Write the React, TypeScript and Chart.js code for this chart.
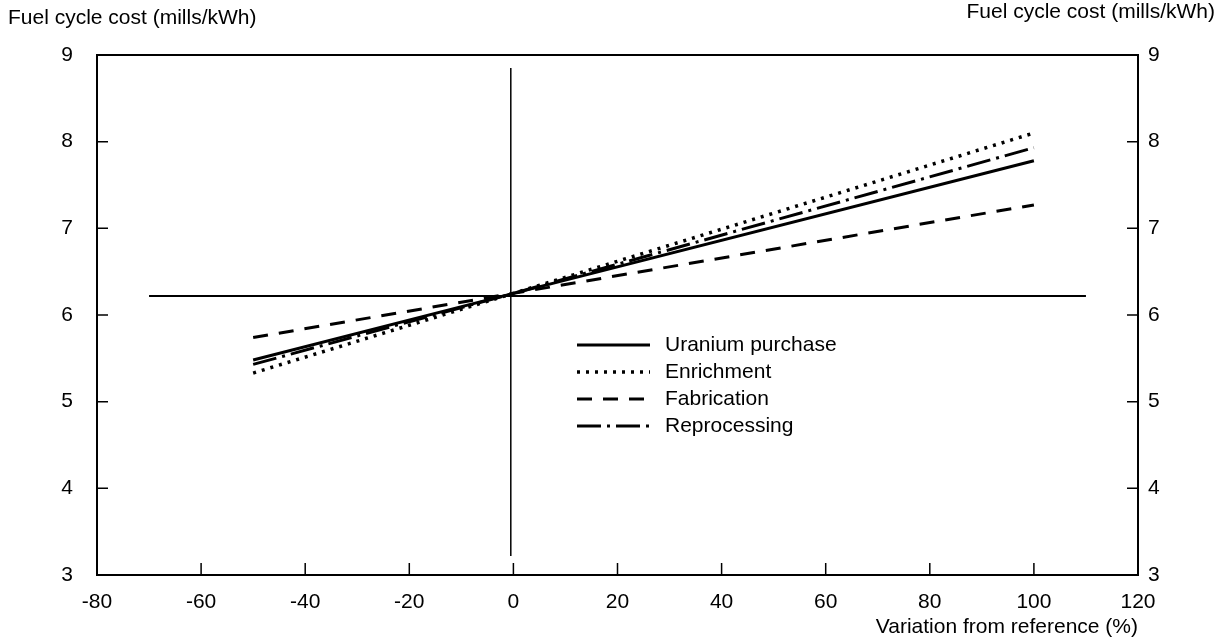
import React, { useEffect, useRef } from "react";
import { Chart, registerables } from "chart.js";

Chart.register(...registerables);

const xPoints = [-50, 0, 100];
const uraniumPurchase = [5.48, 6.25, 7.78];
const enrichment = [5.33, 6.25, 8.1];
const fabrication = [5.74, 6.25, 7.27];
const reprocessing = [5.43, 6.25, 7.93];

const seriesNames = ["Uranium purchase", "Enrichment", "Fabrication", "Reprocessing"];

const refLineX = [-70, 110];
const refLineY = [6.22, 6.22];
const zeroLineX = [-0.5, -0.5];
const zeroLineY = [3.22, 8.85];

const yTitle = "Fuel cycle cost (mills/kWh)";
const xTitle = "Variation from reference (%)";

const FONT = "'Liberation Sans', Arial, Helvetica, sans-serif";

export default function App() {
  const canvasRef = useRef<HTMLCanvasElement | null>(null);

  useEffect(() => {
    if (!canvasRef.current) return;
    const mk = (ys: number[]) => xPoints.map((x, i) => ({ x, y: ys[i] }));

    const framePlugin = {
      id: "frameTicks",
      afterDatasetsDraw(chart: any) {
        const { ctx, chartArea } = chart;
        const { left, right, top, bottom } = chartArea;
        const xs = chart.scales.x;
        const yl = chart.scales.y;
        const yr = chart.scales.y2;
        ctx.save();
        ctx.strokeStyle = "#000";
        ctx.lineWidth = 2;
        ctx.strokeRect(left, top, right - left, bottom - top);
        ctx.lineWidth = 1.5;
        ctx.beginPath();
        yl.ticks.forEach((t: any) => {
          if (t.value <= yl.min || t.value >= yl.max) return;
          const py = yl.getPixelForValue(t.value);
          ctx.moveTo(left, py);
          ctx.lineTo(left + 11, py);
        });
        yr.ticks.forEach((t: any) => {
          if (t.value <= yr.min || t.value >= yr.max) return;
          const py = yr.getPixelForValue(t.value);
          ctx.moveTo(right + 1, py);
          ctx.lineTo(right - 11, py);
        });
        xs.ticks.forEach((t: any) => {
          if (t.value <= xs.min || t.value >= xs.max) return;
          const px = xs.getPixelForValue(t.value);
          ctx.moveTo(px, bottom);
          ctx.lineTo(px, bottom - 12);
        });
        ctx.stroke();

        // axis titles at the top
        ctx.fillStyle = "#000";
        ctx.font = `21px ${FONT}`;
        ctx.textBaseline = "middle";
        ctx.textAlign = "left";
        ctx.fillText(yTitle, 8, 18);
        ctx.textAlign = "right";
        ctx.fillText(yTitle, 1215, 12);

        // legend
        const lx0 = 577;
        const lx1 = 650;
        const rows = [345, 372, 399, 426];
        chart.data.datasets.slice(0, 4).forEach((ds: any, i: number) => {
          ctx.beginPath();
          ctx.setLineDash(ds.borderDash || []);
          ctx.lineWidth = ds.borderWidth;
          ctx.moveTo(lx0, rows[i]);
          ctx.lineTo(lx1, rows[i]);
          ctx.stroke();
          ctx.setLineDash([]);
          ctx.textAlign = "left";
          ctx.fillText(ds.label, 665, rows[i]);
        });
        ctx.restore();
      },
    };

    const tickFont = { size: 21, family: FONT };

    const chart = new Chart(canvasRef.current, {
      type: "line",
      data: {
        datasets: [
          { label: seriesNames[0], data: mk(uraniumPurchase), borderColor: "#000", borderWidth: 3, pointRadius: 0 },
          { label: seriesNames[1], data: mk(enrichment), borderColor: "#000", borderWidth: 3.5, borderDash: [3, 6], pointRadius: 0 },
          { label: seriesNames[2], data: mk(fabrication), borderColor: "#000", borderWidth: 3, borderDash: [15, 11], pointRadius: 0 },
          { label: seriesNames[3], data: mk(reprocessing), borderColor: "#000", borderWidth: 3, borderDash: [24, 6, 3, 6], pointRadius: 0 },
          { label: "ref", data: refLineX.map((x, i) => ({ x, y: refLineY[i] })), borderColor: "#000", borderWidth: 2, pointRadius: 0 },
          { label: "zero", data: zeroLineX.map((x, i) => ({ x, y: zeroLineY[i] })), borderColor: "#000", borderWidth: 1.5, pointRadius: 0 },
        ],
      },
      options: {
        animation: false,
        responsive: false,
        maintainAspectRatio: false,
        layout: { padding: { top: 55, left: 0, right: 0, bottom: 0 } },
        plugins: { legend: { display: false }, tooltip: { enabled: false }, title: { display: false } },
        scales: {
          x: {
            type: "linear",
            min: -80,
            max: 120,
            ticks: { stepSize: 20, color: "#000", font: tickFont, padding: 15 },
            grid: { display: false, drawTicks: false },
            border: { display: false },
            title: {
              display: true,
              text: xTitle,
              align: "end",
              color: "#000",
              font: { size: 21, family: FONT },
              padding: { top: 0, bottom: 0 },
            },
            afterFit(s: any) {
              s.height = 65;
            },
          },
          y: {
            position: "left",
            min: 3,
            max: 9,
            ticks: { stepSize: 1, color: "#000", font: tickFont, padding: 24 },
            grid: { display: false, drawTicks: false },
            border: { display: false },
            afterFit(s: any) {
              s.width = 97;
            },
          },
          y2: {
            position: "right",
            min: 3,
            max: 9,
            ticks: { stepSize: 1, color: "#000", font: tickFont, padding: 10 },
            grid: { display: false, drawTicks: false },
            border: { display: false },
            afterFit(s: any) {
              s.width = 81;
            },
          },
        },
      },
      plugins: [framePlugin],
    });
    return () => chart.destroy();
  }, []);

  return (
    <div style={{ position: "fixed", left: 0, top: 0, width: 1219, height: 640, background: "#fff" }}>
      <canvas ref={canvasRef} width={1219} height={640} style={{ width: 1219, height: 640 }} />
    </div>
  );
}
